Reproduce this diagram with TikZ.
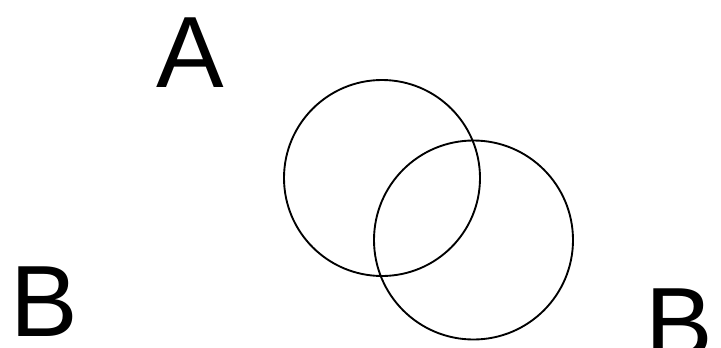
\documentclass[tikz,border=0pt]{standalone}
\usepackage{fontspec}
\setmainfont{Liberation Sans}

\begin{document}
\begin{tikzpicture}[
    x=0.75pt, y=-0.75pt,
    letter/.style={font=\fontsize{76}{76}\selectfont, inner sep=0pt,
                   text depth=0pt, anchor=base},
    ring/.style={circle, draw=black, line width=1.4pt, inner sep=0pt,
                 minimum size=#1},
]
\useasboundingbox (0,0) rectangle (721,347);

% ---------------- letters
\node[letter] (a)  at (190.5, 87)  {A};
\node[letter] (bl) at (44.5, 336)  {B};
\node[letter] (br) at (679, 358)   {B};

% ---------------- the two circles
\node[ring=147pt]    (left)  at (382, 178)   {};
\node[ring=149.25pt] (right) at (473.5, 240) {};
\end{tikzpicture}
\end{document}
